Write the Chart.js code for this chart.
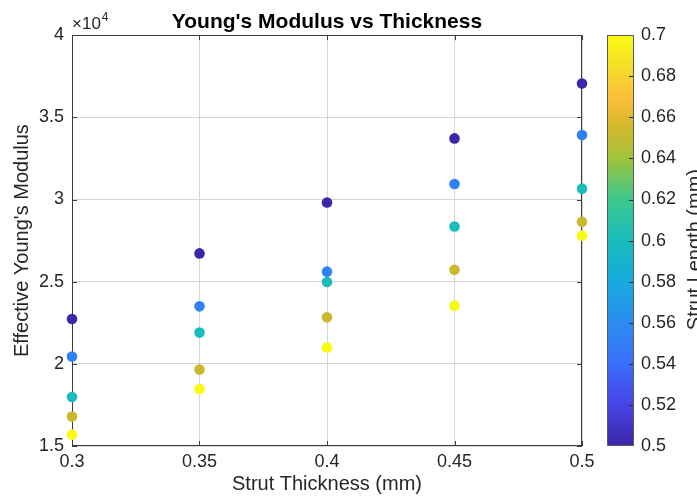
<!DOCTYPE html>
<html>
<head>
<meta charset="utf-8">
<script src="https://cdn.jsdelivr.net/npm/chart.js@4.4.1/dist/chart.umd.min.js"></script>
<style>
  html, body { margin: 0; padding: 0; background: #ffffff; }
  #wrap { width: 697px; height: 496px; position: relative; }
</style>
</head>
<body>
<div id="wrap"><canvas id="c" width="697" height="496"></canvas></div>
<script>
// ---- data ----
const thickness = [0.30, 0.35, 0.40, 0.45, 0.50];           // Strut Thickness (mm)
const strutLengths = [0.50, 0.55, 0.60, 0.65, 0.70];        // Strut Length (mm)
const modulusL050 = [22730, 26720, 29820, 33720, 37060];
const modulusL055 = [20440, 23500, 25610, 30940, 33920];
const modulusL060 = [17980, 21900, 24980, 28360, 30660];
const modulusL065 = [16790, 19650, 22830, 25730, 28650];
const modulusL070 = [15690, 18470, 20990, 23540, 27800];
const xTicks = [0.30, 0.35, 0.40, 0.45, 0.50];
const yTicks = [15000, 20000, 25000, 30000, 35000, 40000];
const cbTicks = [0.50, 0.52, 0.54, 0.56, 0.58, 0.60, 0.62, 0.64, 0.66, 0.68, 0.70];

// ---- styling ----
const FONT = "'Liberation Sans', Arial, Helvetica, sans-serif";
const TXT = '#262626';
const GRID = '#d6d6d6';
const BOX = '#3c3c3c';
const pointColors = ['#3e26a8', '#2f82f6', '#1bbcbb', '#c9b92c', '#f9fa14'];
const parulaStops = [
  [0.00, '#3e26a8'], [0.10, '#4743e6'], [0.20, '#3a6efc'], [0.30, '#2b8cf0'],
  [0.40, '#16aade'], [0.50, '#18bcbc'], [0.60, '#3cc88c'], [0.70, '#a0c33c'],
  [0.78, '#d7b92d'], [0.85, '#fcbe3a'], [0.92, '#f5dc28'], [1.00, '#f9fb15']
];

const seriesValues = [modulusL050, modulusL055, modulusL060, modulusL065, modulusL070];
const datasets = strutLengths.map((L, k) => ({
  label: 'L = ' + L,
  data: thickness.map((t, i) => ({ x: t, y: seriesValues[k][i] })),
  backgroundColor: pointColors[k],
  borderColor: pointColors[k],
  borderWidth: 0,
  pointRadius: 5.3,
  pointHoverRadius: 5.3,
  showLine: false,
  clip: false
}));

const frame = {
  id: 'frame',
  beforeDatasetsDraw(chart) {
    const { ctx, chartArea: a, scales } = chart;
    ctx.save();
    ctx.strokeStyle = BOX;
    ctx.lineWidth = 1;
    ctx.strokeRect(Math.round(a.left) + 0.5, Math.round(a.top) + 0.5,
                   Math.round(a.right - a.left) - 1, Math.round(a.bottom - a.top) - 1);
    // inward tick marks
    ctx.beginPath();
    const L = 5;
    scales.x.ticks.forEach(t => {
      const px = Math.round(scales.x.getPixelForValue(t.value)) + 0.5;
      ctx.moveTo(px, a.bottom); ctx.lineTo(px, a.bottom - L);
      ctx.moveTo(px, a.top); ctx.lineTo(px, a.top + L);
    });
    scales.y.ticks.forEach(t => {
      const py = Math.round(scales.y.getPixelForValue(t.value)) + 0.5;
      ctx.moveTo(a.left, py); ctx.lineTo(a.left + L, py);
      ctx.moveTo(a.right, py); ctx.lineTo(a.right - L, py);
    });
    ctx.stroke();
    ctx.restore();
  },
  afterDraw(chart) {
    const { ctx, chartArea: a, scales } = chart;
    ctx.save();
    // x10^4 exponent label
    ctx.fillStyle = TXT;
    ctx.textBaseline = 'alphabetic';
    ctx.textAlign = 'left';
    ctx.font = '17px ' + FONT;
    ctx.fillText('\u00d710', a.left, a.top - 6);
    const w = ctx.measureText('\u00d710').width;
    ctx.font = '12px ' + FONT;
    ctx.fillText('4', a.left + w + 1, a.top - 14);

    // colorbar
    const cb = scales.cb;
    const x0 = 607, x1 = 634;
    const yTop = cb.getPixelForValue(0.70), yBot = cb.getPixelForValue(0.50);
    const g = ctx.createLinearGradient(0, yBot, 0, yTop);
    parulaStops.forEach(s => g.addColorStop(s[0], s[1]));
    ctx.fillStyle = g;
    ctx.fillRect(x0, yTop, x1 - x0, yBot - yTop);
    ctx.strokeStyle = '#5a5a5a';
    ctx.lineWidth = 1;
    ctx.strokeRect(x0 + 0.5, Math.round(yTop) + 0.5, x1 - x0 - 1, Math.round(yBot - yTop) - 1);
    ctx.strokeStyle = '#262626';
    ctx.beginPath();
    cb.ticks.forEach(t => {
      const py = Math.round(cb.getPixelForValue(t.value)) + 0.5;
      if (t.value > 0.501 && t.value < 0.699) {
        ctx.moveTo(x1 - 1, py); ctx.lineTo(x1 - 5, py);
      }
    });
    ctx.stroke();
    // colorbar label
    ctx.translate(701, (yTop + yBot) / 2 + 9);
    ctx.rotate(-Math.PI / 2);
    ctx.fillStyle = TXT;
    ctx.font = '20px ' + FONT;
    ctx.textAlign = 'center';
    ctx.textBaseline = 'alphabetic';
    ctx.fillText('Strut Length (mm)', 0, 0);
    ctx.restore();
  }
};

new Chart(document.getElementById('c'), {
  type: 'scatter',
  data: { datasets },
  plugins: [frame],
  options: {
    responsive: false,
    animation: false,
    devicePixelRatio: 1,
    layout: { padding: 0 },
    plugins: {
      legend: { display: false },
      tooltip: { enabled: false },
      title: {
        display: true,
        text: "Young's Modulus vs Thickness",
        fullSize: false,
        color: '#000000',
        font: { family: FONT, size: 21, weight: 'bold' },
        padding: { top: 10, bottom: 0 }
      }
    },
    scales: {
      x: {
        type: 'linear',
        position: 'bottom',
        min: 0.3, max: 0.5,
        afterFit: s => { s.height = 50; },
        afterBuildTicks: s => { s.ticks = xTicks.map(v => ({ value: v })); },
        ticks: {
          color: TXT, padding: 5, autoSkip: false, maxRotation: 0,
          font: { family: FONT, size: 18 },
          callback: v => String(+v.toFixed(2))
        },
        grid: { color: GRID, drawTicks: false },
        border: { display: false },
        title: {
          display: true, text: 'Strut Thickness (mm)', color: TXT,
          font: { family: FONT, size: 20 }, padding: { top: 0, bottom: 0 }
        }
      },
      y: {
        type: 'linear',
        position: 'left',
        min: 15000, max: 40000,
        afterFit: s => { s.width = 72; },
        afterBuildTicks: s => { s.ticks = yTicks.map(v => ({ value: v })); },
        ticks: {
          color: TXT, padding: 8, autoSkip: false,
          font: { family: FONT, size: 18 },
          callback: v => String(+(v / 10000).toFixed(2))
        },
        grid: { color: GRID, drawTicks: false },
        border: { display: false },
        title: {
          display: true, text: "Effective Young's Modulus", color: TXT,
          font: { family: FONT, size: 20 }, padding: { top: 10, bottom: 0 }
        }
      },
      cb: {
        type: 'linear',
        position: 'right',
        min: 0.5, max: 0.7,
        afterFit: s => { s.width = 115; },
        afterBuildTicks: s => { s.ticks = cbTicks.map(v => ({ value: v })); },
        ticks: {
          color: TXT, padding: 3, autoSkip: false,
          font: { family: FONT, size: 18 },
          callback: v => String(+v.toFixed(2))
        },
        grid: { drawOnChartArea: false, drawTicks: true, tickLength: 56,
                tickColor: 'rgba(0,0,0,0)', color: 'rgba(0,0,0,0)', display: true },
        border: { display: false }
      }
    }
  }
});
</script>
</body>
</html>
